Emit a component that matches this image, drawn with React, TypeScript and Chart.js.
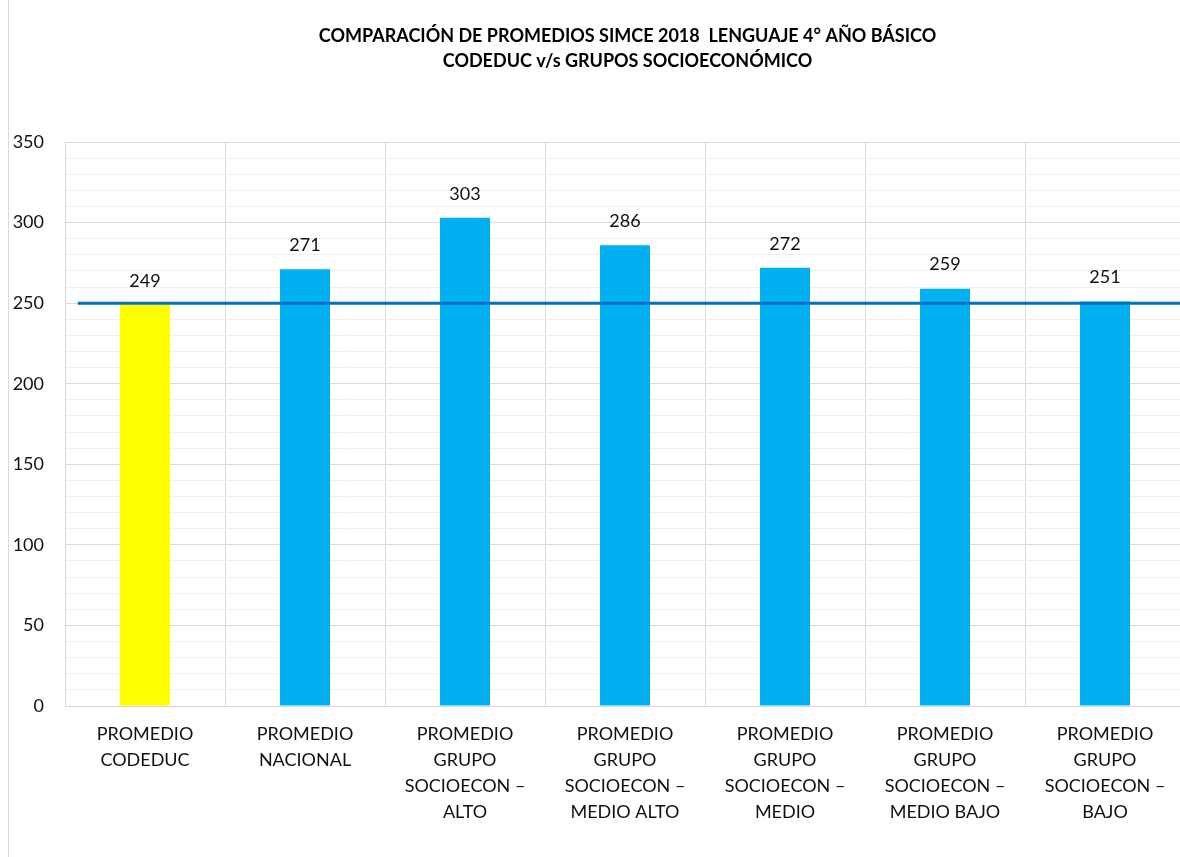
import React, { useEffect, useRef } from "react";
import { Chart, registerables } from "chart.js";

Chart.register(...registerables);

const titleLines = [
  "COMPARACIÓN DE PROMEDIOS SIMCE 2018  LENGUAJE 4° AÑO BÁSICO",
  "CODEDUC v/s GRUPOS SOCIOECONÓMICO",
];

const categories: string[][] = [
  ["PROMEDIO", "CODEDUC"],
  ["PROMEDIO", "NACIONAL"],
  ["PROMEDIO", "GRUPO", "SOCIOECON –", "ALTO"],
  ["PROMEDIO", "GRUPO", "SOCIOECON –", "MEDIO ALTO"],
  ["PROMEDIO", "GRUPO", "SOCIOECON –", "MEDIO"],
  ["PROMEDIO", "GRUPO", "SOCIOECON –", "MEDIO BAJO"],
  ["PROMEDIO", "GRUPO", "SOCIOECON –", "BAJO"],
];

const promedios = [249, 271, 303, 286, 272, 259, 251];
const barColors = ["#FFFF00", "#00B0F0", "#00B0F0", "#00B0F0", "#00B0F0", "#00B0F0", "#00B0F0"];

const referenceValue = 250;
const referenceSpan = [0.08, 7];

const yMin = 0;
const yMax = 350;
const yStep = 10;
const yLabelStep = 50;

const FONT = "Lato, 'Open Sans', sans-serif";
const TEXT = "#111111";

const valueLabels = {
  id: "valueLabels",
  afterDatasetsDraw(chart: any) {
    const ctx = chart.ctx;
    const meta = chart.getDatasetMeta(0);
    ctx.save();
    ctx.font = `18px ${FONT}`;
    ctx.fillStyle = TEXT;
    ctx.textAlign = "center";
    ctx.textBaseline = "middle";
    meta.data.forEach((el: any, i: number) => {
      ctx.fillText(String(promedios[i]), el.x, el.y - 24);
    });
    ctx.restore();
  },
};

const titleDraw = {
  id: "titleDraw",
  afterDraw(chart: any) {
    const ctx = chart.ctx;
    ctx.save();
    ctx.font = `bold 18px ${FONT}`;
    ctx.fillStyle = "#000";
    ctx.textAlign = "center";
    ctx.textBaseline = "middle";
    const cx = chart.width / 2;
    titleLines.forEach((t, i) => ctx.fillText(t, cx, 36 + i * 25));
    ctx.restore();
  },
};

export default function App() {
  const ref = useRef<HTMLCanvasElement>(null);

  useEffect(() => {
    if (!ref.current) return;
    const chart = new Chart(ref.current, {
      type: "bar",
      data: {
        labels: categories as any,
        datasets: [
          {
            type: "bar",
            data: promedios,
            backgroundColor: barColors,
            categoryPercentage: 1,
            barPercentage: 0.3125,
            grouped: false,
            xAxisID: "x",
            order: 1,
          } as any,
          {
            type: "line",
            data: referenceSpan.map((x) => ({ x, y: referenceValue })),
            xAxisID: "x2",
            borderColor: "#0070C0",
            borderWidth: 3,
            pointRadius: 0,
            order: 0,
          } as any,
        ],
      },
      options: {
        animation: false,
        responsive: false,
        devicePixelRatio: 1,
        layout: { padding: { top: 142, left: 0, right: 61, bottom: 0 } },
        plugins: {
          legend: { display: false },
          title: { display: false },
          tooltip: { enabled: false },
        },
        scales: {
          x: {
            type: "category",
            offset: true,
            grid: {
              offset: true,
              color: "#d9d9d9",
              drawTicks: false,
            },
            border: { color: "#d9d9d9" },
            ticks: {
              autoSkip: false,
              maxRotation: 0,
              minRotation: 0,
              padding: 15,
              color: TEXT,
              font: { family: FONT, size: 18, lineHeight: 1.45 },
            },
            afterFit(scale: any) {
              scale.height = 151;
            },
          },
          x2: {
            type: "linear",
            display: false,
            offset: false,
            grid: { offset: false },
            min: 0,
            max: 7,
          },
          y: {
            min: yMin,
            max: yMax,
            grid: {
              color: (c: any) =>
                c.tick && c.tick.value % yLabelStep === 0 ? "#d9d9d9" : "#efefef",
              drawTicks: false,
            },
            border: { color: "#d9d9d9" },
            ticks: {
              stepSize: yStep,
              autoSkip: false,
              padding: 21,
              color: TEXT,
              font: { family: FONT, size: 18 },
              callback: (v: any) => (Number(v) % yLabelStep === 0 ? String(v) : ""),
            },
            afterFit(scale: any) {
              scale.width = 56;
            },
          },
        },
      },
      plugins: [valueLabels, titleDraw],
    } as any);
    return () => chart.destroy();
  }, []);

  return (
    <div
      style={{
        position: "fixed",
        left: 0,
        top: 0,
        width: 1180,
        height: 857,
        overflow: "hidden",
        background: "#fff",
      }}
    >
      <div
        style={{
          position: "absolute",
          left: 8,
          top: 0,
          width: 1238,
          height: 857,
          borderLeft: "1px solid #d9d9d9",
        }}
      >
        <canvas ref={ref} width={1237} height={857} style={{ display: "block" }} />
      </div>
    </div>
  );
}
